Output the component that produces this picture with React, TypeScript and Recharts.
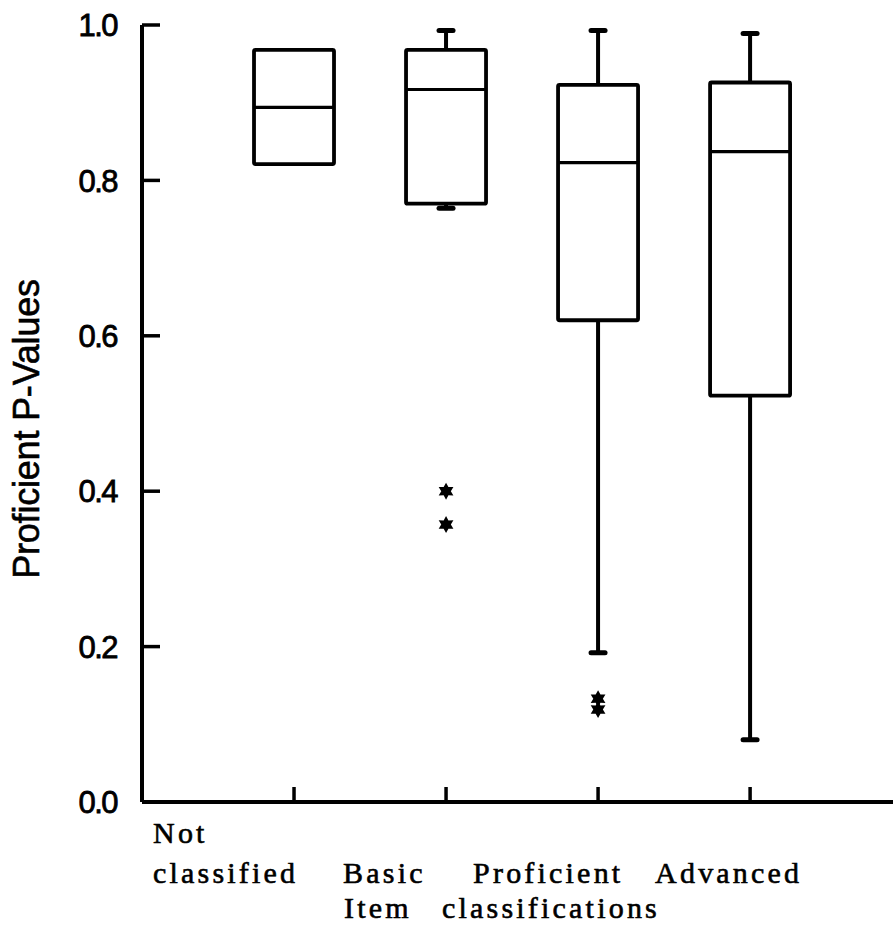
import React from 'react';
import { ComposedChart, Bar, Scatter, XAxis, YAxis } from 'recharts';

// Item classification groups along the horizontal axis
const categories = ['Not classified', 'Basic', 'Proficient', 'Advanced'];

// Five-number summaries of proficient p-values per group
const whiskerLow = [0.821, 0.764, 0.192, 0.08];
const lowerQuartile = [0.821, 0.77, 0.62, 0.523];
const medianValue = [0.894, 0.917, 0.823, 0.837];
const upperQuartile = [0.968, 0.968, 0.923, 0.926];
const whiskerHigh = [0.968, 0.993, 0.993, 0.989];

// Outlying items (group number, p-value)
const outlierGroup = [2, 2, 3, 3];
const outlierValue = [0.4, 0.357, 0.133, 0.119];

const yTicks = [0, 0.2, 0.4, 0.6, 0.8, 1.0];
const xTicks = [1, 2, 3, 4];

const boxData = categories.map((name, i) => ({
  name,
  pos: i + 1,
  low: whiskerLow[i],
  q1: lowerQuartile[i],
  median: medianValue[i],
  q3: upperQuartile[i],
  high: whiskerHigh[i],
}));

const outlierData = outlierValue.map((value, i) => ({ pos: outlierGroup[i], value }));

const WIDTH = 893;
const HEIGHT = 929;
const X_AXIS_H = 127;
const Y_AXIS_W = 142;
const INK = '#000';

const sansFont = '"Liberation Sans", Arial, Helvetica, sans-serif';
const serifFont = '"Liberation Serif", "Times New Roman", serif';

const serifStyle = {
  fontFamily: serifFont,
  fontSize: 30,
  letterSpacing: 3.2,
  fill: INK,
  stroke: INK,
  strokeWidth: 0.6,
};

function BoxPlotShape(props: any) {
  const { x, y, width, height } = props;
  const d = props.payload ?? props;
  const top = Math.min(y, y + height);
  const bottom = Math.max(y, y + height);
  const span = d.high - d.low;
  const toY = (v: number) => bottom - ((v - d.low) / span) * (bottom - top);
  const cx = x + width / 2;
  const yQ1 = toY(d.q1);
  const yQ3 = toY(d.q3);
  const yMed = toY(d.median);
  const yHi = toY(d.high);
  const yLo = toY(d.low);
  const cap = 7;
  return (
    <g>
      {d.high > d.q3 && (
        <g>
          <line x1={cx} x2={cx} y1={yQ3} y2={yHi} stroke={INK} strokeWidth={4} />
          <line x1={cx - cap} x2={cx + cap} y1={yHi} y2={yHi} stroke={INK} strokeWidth={5} strokeLinecap="round" />
        </g>
      )}
      {d.low < d.q1 && (
        <g>
          <line x1={cx} x2={cx} y1={yQ1} y2={yLo} stroke={INK} strokeWidth={4} />
          <line x1={cx - cap} x2={cx + cap} y1={yLo} y2={yLo} stroke={INK} strokeWidth={5} strokeLinecap="round" />
        </g>
      )}
      <rect x={x} y={yQ3} width={width} height={yQ1 - yQ3} fill="#fff" stroke={INK} strokeWidth={3.8} rx={1.5} />
      <line x1={x} x2={x + width} y1={yMed} y2={yMed} stroke={INK} strokeWidth={3.2} />
    </g>
  );
}

function AsteriskShape(props: any) {
  const { cx, cy } = props;
  const pts: string[] = [];
  for (let i = 0; i < 12; i++) {
    const r = i % 2 === 0 ? 8.5 : 4.8;
    const a = -Math.PI / 2 + (i * Math.PI) / 6;
    pts.push(`${cx + r * Math.cos(a)},${cy + r * Math.sin(a)}`);
  }
  return <polygon points={pts.join(' ')} fill={INK} />;
}

function YTick(props: any) {
  const { x, y, payload } = props;
  return (
    <text
      x={x}
      y={y}
      dy="0.36em"
      textAnchor="end"
      fill={INK}
      stroke={INK}
      strokeWidth={0.8}
      fontFamily={sansFont}
      fontSize={31}
      letterSpacing={-1.5}
    >
      {Number(payload.value).toFixed(1)}
    </text>
  );
}

// Typed category labels sit left of their tick, on a shared line
const labelShift: Record<string, number> = {
  'Not classified': -141,
  Basic: -103,
  Proficient: -125,
  Advanced: -95,
};

function XTick(props: any) {
  const { x, payload } = props;
  const name = categories[Number(payload.value) - 1];
  if (!name) return null;
  const base = HEIGHT - X_AXIS_H;
  const left = x + labelShift[name];
  if (name === 'Not classified') {
    return (
      <g>
        <text x={left} y={base + 41} {...serifStyle}>Not</text>
        <text x={left} y={base + 81} {...serifStyle}>classified</text>
      </g>
    );
  }
  return (
    <text x={left} y={base + 81} {...serifStyle}>
      {name}
    </text>
  );
}

function XTitle(props: any) {
  const vb = props.viewBox || { x: Y_AXIS_W, y: HEIGHT - X_AXIS_H };
  const baseY = HEIGHT - X_AXIS_H + 116;
  return (
    <g>
      <text x={vb.x + 202} y={baseY} {...serifStyle}>Item</text>
      <text x={vb.x + 300} y={baseY} {...serifStyle}>classifications</text>
    </g>
  );
}

function YTitle() {
  const cx = 39;
  const cy = 429;
  return (
    <text
      x={cx}
      y={cy}
      transform={`rotate(-90 ${cx} ${cy})`}
      textAnchor="middle"
      fill={INK}
      stroke={INK}
      strokeWidth={0.6}
      fontFamily={sansFont}
      fontSize={36}
      letterSpacing={-0.2}
    >
      Proficient P-Values
    </text>
  );
}

export default function App() {
  return (
    <div style={{ position: 'absolute', left: 0, top: 0, width: WIDTH, height: HEIGHT, background: '#fff' }}>
      <ComposedChart width={WIDTH} height={HEIGHT} data={boxData} margin={{ top: 25, right: 0, bottom: 0, left: 0 }}>
        <XAxis
          type="number"
          dataKey="pos"
          domain={[0, 4.94]}
          ticks={xTicks}
          interval={0}
          allowDataOverflow
          height={X_AXIS_H}
          tickSize={-15}
          tickMargin={15}
          axisLine={{ stroke: INK, strokeWidth: 4 }}
          tickLine={{ stroke: INK, strokeWidth: 3.5 }}
          tick={<XTick />}
          label={<XTitle />}
        />
        <YAxis
          type="number"
          domain={[0, 1]}
          ticks={yTicks}
          interval={0}
          width={Y_AXIS_W}
          tickSize={-18}
          tickMargin={43}
          axisLine={{ stroke: INK, strokeWidth: 4 }}
          tickLine={{ stroke: INK, strokeWidth: 3.5 }}
          tick={<YTick />}
          label={<YTitle />}
        />
        <Bar
          dataKey={(d: any) => [d.low, d.high]}
          barSize={80}
          shape={<BoxPlotShape />}
          isAnimationActive={false}
        />
        <Scatter data={outlierData} dataKey="value" shape={<AsteriskShape />} isAnimationActive={false} />
      </ComposedChart>
    </div>
  );
}
